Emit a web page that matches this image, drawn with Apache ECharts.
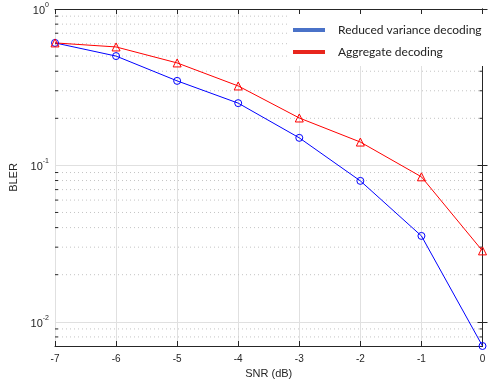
<!DOCTYPE html>
<html>
<head>
<meta charset="utf-8">
<script src="https://cdn.jsdelivr.net/npm/echarts@6/dist/echarts.min.js"></script>
<style>
  html, body { margin: 0; padding: 0; background: #fff; }
  #chart { width: 490px; height: 379px; }
</style>
</head>
<body>
<div id="chart"></div>
<script>
// SNR points (dB)
const snr = [-7, -6, -5, -4, -3, -2, -1, 0]
// BLER
const reducedVariance = [0.607, 0.50, 0.347, 0.25, 0.15, 0.0796, 0.0354, 0.0070]
const aggregate = [0.607, 0.572, 0.452, 0.322, 0.201, 0.141, 0.0845, 0.0284]
// minor log grid values
const minorValues = [0.008, 0.009,
  0.02, 0.03, 0.04, 0.05, 0.06, 0.07, 0.08, 0.09,
  0.2, 0.3, 0.4, 0.5, 0.6, 0.7, 0.8, 0.9]

const chart = echarts.init(document.getElementById('chart'))

const axisColor = '#262626'
const gridColor = '#e0e0e0'

const option = {
  animation: false,
  grid: { left: 55, right: 7.5, top: 9, bottom: 33, outerBoundsMode: 'none' },
  legend: {
    orient: 'vertical',
    left: 288,
    top: 14,
    width: 194,
    backgroundColor: '#fff',
    padding: [10, 6, 8, 5],
    itemWidth: 32,
    itemHeight: 4,
    itemGap: 10,
    icon: 'rect',
    textStyle: { fontFamily: 'Lato', fontSize: 12, color: '#222', padding: [0, 0, 0, 8] },
    data: [
      { name: 'Reduced variance decoding', itemStyle: { color: '#4a72c8', borderWidth: 0 } },
      { name: 'Aggregate decoding', itemStyle: { color: '#e8261d', borderWidth: 0 } }
    ]
  },
  xAxis: [
    {
      type: 'value', min: -7, max: 0, interval: 1,
      name: 'SNR (dB)', nameLocation: 'middle', nameGap: 22,
      nameTextStyle: { fontFamily: 'Liberation Sans', fontSize: 11, color: '#262626' },
      axisLine: { show: true, lineStyle: { color: axisColor, width: 1 } },
      axisTick: { inside: true, length: 5, lineStyle: { color: axisColor } },
      axisLabel: { fontFamily: 'Liberation Sans', fontSize: 10, color: '#262626', margin: 8 },
      splitLine: { show: true, lineStyle: { color: gridColor, width: 1 } }
    },
    {
      type: 'value', min: -7, max: 0, interval: 1, position: 'top',
      axisLine: { show: true, lineStyle: { color: axisColor, width: 1 } },
      axisTick: { inside: true, length: 5, lineStyle: { color: axisColor } },
      axisLabel: { show: false },
      splitLine: { show: false }
    }
  ],
  yAxis: [
    {
      type: 'log', logBase: 10, min: 0.007, max: 1,
      name: 'BLER', nameLocation: 'middle', nameGap: 35,
      nameTextStyle: { fontFamily: 'Liberation Sans', fontSize: 11, color: '#262626' },
      axisLine: { show: true, lineStyle: { color: axisColor, width: 1 } },
      axisTick: { inside: true, length: 5, lineStyle: { color: axisColor } },
      axisLabel: {
        showMinLabel: false,
        margin: 6,
        formatter: function (v) {
          const e = Math.round(Math.log10(v))
          return '{b|10}{s|' + e + '}'
        },
        rich: {
          b: { fontFamily: 'Liberation Sans', fontSize: 11, color: '#262626', verticalAlign: 'bottom', padding: [4, 0, 0, 0] },
          s: { fontFamily: 'Liberation Sans', fontSize: 7, color: '#262626', verticalAlign: 'top', padding: [0, 0, 4, 0] }
        }
      },
      splitLine: { show: true, lineStyle: { color: gridColor, width: 1 } }
    },
    {
      type: 'log', logBase: 10, min: 0.007, max: 1, position: 'right',
      axisLine: { show: true, lineStyle: { color: axisColor, width: 1 } },
      axisTick: { inside: true, length: 5, lineStyle: { color: axisColor } },
      axisLabel: { show: false },
      splitLine: { show: false }
    }
  ],
  series: [
    {
      // minor dotted grid lines and minor ticks on both sides
      type: 'custom',
      silent: true,
      z: 1,
      clip: false,
      data: minorValues.map(v => [-7, v]),
      renderItem: function (params, api) {
        const p0 = api.coord([-7, api.value(1)])
        const p1 = api.coord([0, api.value(1)])
        return {
          type: 'group',
          children: [
            { type: 'line', shape: { x1: p0[0] + 3, y1: p0[1], x2: p1[0] - 3, y2: p1[1] },
              style: { stroke: '#c4c4c4', lineWidth: 1, lineDash: [1, 3] } },
            { type: 'line', shape: { x1: p0[0], y1: p0[1], x2: p0[0] + 3, y2: p0[1] },
              style: { stroke: axisColor, lineWidth: 1 } },
            { type: 'line', shape: { x1: p1[0] - 3, y1: p1[1], x2: p1[0], y2: p1[1] },
              style: { stroke: axisColor, lineWidth: 1 } }
          ]
        }
      }
    },
    {
      name: 'Reduced variance decoding',
      type: 'line',
      data: snr.map((x, i) => [x, reducedVariance[i]]),
      symbol: 'circle', symbolSize: 7,
      clip: false,
      z: 3,
      lineStyle: { color: '#0000ff', width: 1 },
      itemStyle: { color: 'rgba(255,255,255,0)', borderColor: '#0000ff', borderWidth: 1 }
    },
    {
      name: 'Aggregate decoding',
      type: 'line',
      data: snr.map((x, i) => [x, aggregate[i]]),
      symbol: 'triangle', symbolSize: 8,
      clip: false,
      z: 3,
      lineStyle: { color: '#ff0000', width: 1 },
      itemStyle: { color: 'rgba(255,255,255,0)', borderColor: '#ff0000', borderWidth: 1 }
    }
  ]
}

chart.setOption(option)
</script>
</body>
</html>
